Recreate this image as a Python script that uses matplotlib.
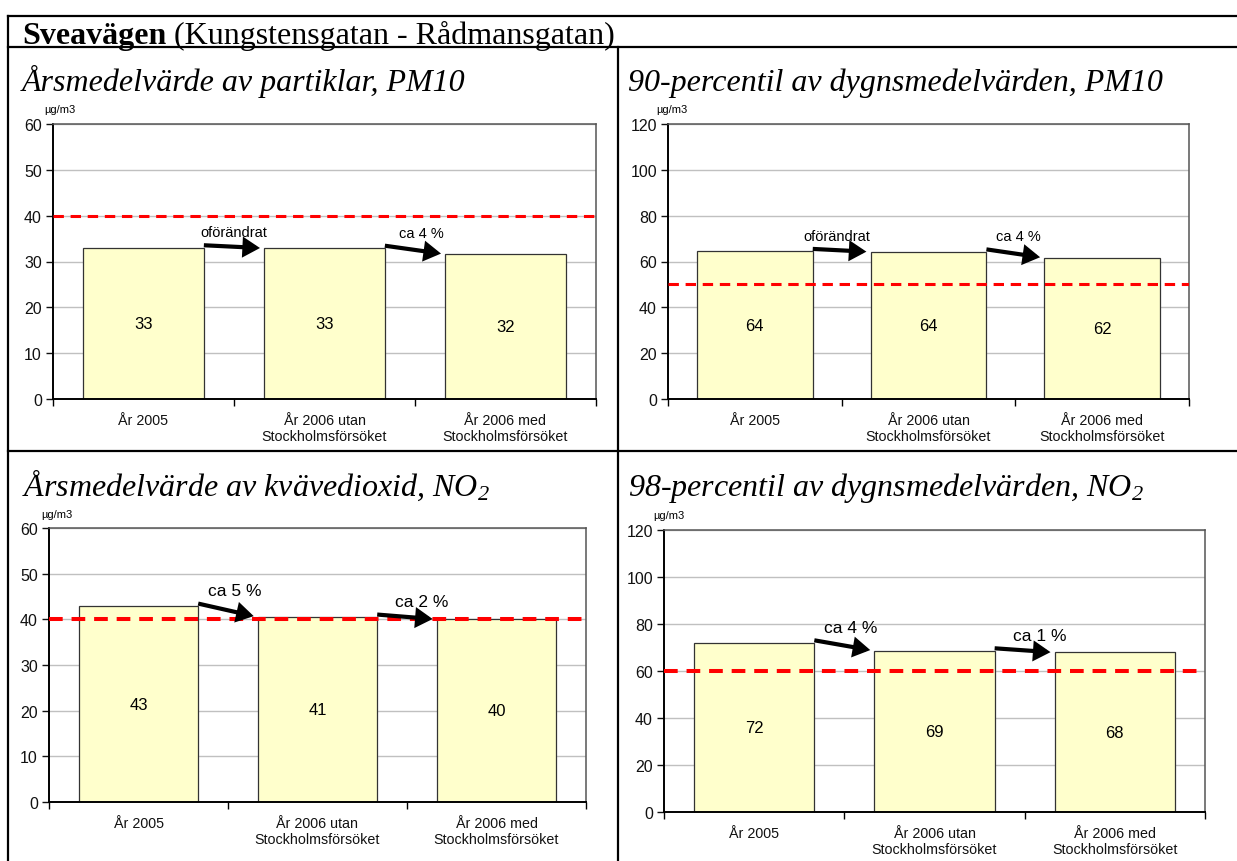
import matplotlib
matplotlib.use("Agg")
import matplotlib.pyplot as plt
from matplotlib.lines import Line2D

# ---------------- data ----------------
categories = ["År 2005", "År 2006 utan\nStockholmsförsöket", "År 2006 med\nStockholmsförsöket"]

pm10_annual = [33.0, 32.9, 31.6]
pm10_annual_labels = ["33", "33", "32"]
pm10_p90 = [64.4, 64.2, 61.6]
pm10_p90_labels = ["64", "64", "62"]
no2_annual = [42.9, 40.5, 40.0]
no2_annual_labels = ["43", "41", "40"]
no2_p98 = [72.0, 68.6, 67.9]
no2_p98_labels = ["72", "69", "68"]

limits = [40, 50, 40, 60]
y_max = [60, 120, 60, 120]
y_step = [10, 20, 10, 20]

change_texts = [["oförändrat", "ca 4 %"], ["oförändrat", "ca 4 %"],
                ["ca 5 %", "ca 2 %"], ["ca 4 %", "ca 1 %"]]

titles = ["Årsmedelvärde av partiklar, PM10",
          "90-percentil av dygnsmedelvärden, PM10",
          "Årsmedelvärde av kvävedioxid, NO$_2$",
          "98-percentil av dygnsmedelvärden, NO$_2$"]
main_title_bold = "Sveavägen"
main_title_rest = " (Kungstensgatan - Rådmansgatan)"
unit = "µg/m3"

# ---------------- layout ----------------
W, H = 1237, 862
plt.rcParams["font.family"] = ["Liberation Sans", "DejaVu Sans"]
plt.rcParams["mathtext.fontset"] = "custom"
plt.rcParams["mathtext.rm"] = "Liberation Serif:italic"
plt.rcParams["mathtext.it"] = "Liberation Serif:italic"

fig = plt.figure(figsize=(W / 100, H / 100), dpi=100)


def rect(x0, y0, x1, y1):
    return [x0 / W, 1 - y1 / H, (x1 - x0) / W, (y1 - y0) / H]


def fx(x):
    return x / W


def fy(y):
    return 1 - y / H


# frame lines
lw_frame = 1.6
for xs, ys in [((8, W), (17, 17)), ((8, 8), (17, H)), ((8, W), (48, 48)),
               ((618, 618), (48, H)), ((8, W), (452, 452))]:
    fig.add_artist(Line2D([fx(xs[0]), fx(xs[1])], [fy(ys[0]), fy(ys[1])],
                          color="black", lw=lw_frame, transform=fig.transFigure))

serif = ["Liberation Serif", "DejaVu Serif"]
t1 = fig.text(fx(22), fy(44), main_title_bold, family=serif, weight="bold",
              fontsize=23, ha="left", va="baseline")
fig.add_artist(plt.Annotation(main_title_rest, xy=(1, 0), xycoords=t1,
                              va="bottom", ha="left", family=serif, fontsize=23))

panels = [
    dict(vals=pm10_annual, labels=pm10_annual_labels, box=(53, 125, 596, 400),
         title_xy=(22, 91), unit_xy=(60, 110), text_dx=[0, 6], fs_arrow=10.5,
         lw_lim=2.2),
    dict(vals=pm10_p90, labels=pm10_p90_labels, box=(668, 125, 1189, 400),
         title_xy=(628, 91), unit_xy=(672, 110), text_dx=[-5, 3], fs_arrow=10.5,
         lw_lim=2.2),
    dict(vals=no2_annual, labels=no2_annual_labels, box=(49, 529, 586, 803),
         title_xy=(22, 496), unit_xy=(57, 515), text_dx=[7, 15], fs_arrow=12.5,
         lw_lim=2.9),
    dict(vals=no2_p98, labels=no2_p98_labels, box=(664, 531, 1205, 813),
         title_xy=(628, 496), unit_xy=(669, 516), text_dx=[6, 15], fs_arrow=12.5,
         lw_lim=2.9),
]

bar_w = 0.667
for k, p in enumerate(panels):
    x0, y0, x1, y1 = p["box"]
    ax = fig.add_axes(rect(x0, y0, x1, y1))
    vals = p["vals"]
    xs = list(range(len(categories)))
    ax.bar(xs, vals, width=bar_w, color="#FFFFCC", edgecolor="#333333",
           linewidth=0.9, zorder=2)
    ax.set_xlim(-0.5, 2.5)
    ax.set_ylim(0, y_max[k])
    ax.set_yticks(range(0, y_max[k] + 1, y_step[k]))
    ax.yaxis.grid(True, color="#C0C0C0", lw=1.0, zorder=0)
    ax.set_axisbelow(True)
    ax.set_xticks(xs)
    ax.set_xticklabels(categories, fontsize=10.3, linespacing=1.2)
    ax.set_xticks([-0.5, 0.5, 1.5, 2.5], minor=True)
    ax.tick_params(axis="x", which="major", length=0, pad=10, colors="#111111")
    ax.tick_params(axis="x", which="minor", length=5, width=1, direction="out")
    ax.tick_params(axis="y", length=5, width=1, direction="out", labelsize=11.5, pad=3,
                   colors="#111111")
    for s in ["left", "bottom"]:
        ax.spines[s].set_color("black")
        ax.spines[s].set_linewidth(1.4)
    for s in ["top", "right"]:
        ax.spines[s].set_color("#555555")
        ax.spines[s].set_linewidth(1.1)
    # limit line
    ax.axhline(limits[k], color="#FF0000", lw=p["lw_lim"], linestyle=(0, (3.4, 2.2)),
               zorder=3)
    # value labels
    for i, v in enumerate(vals):
        ax.text(i, v / 2, p["labels"][i], ha="center", va="center", fontsize=12, zorder=4)
    # arrows
    px_per_unit = (y1 - y0) / y_max[k]
    off = 2.5 / px_per_unit
    for i in range(2):
        xa = i + bar_w / 2
        xb = i + 1 - bar_w / 2
        ya = vals[i] + off
        yb = vals[i + 1]
        ax.annotate("", xy=(xb, yb), xytext=(xa, ya),
                    arrowprops=dict(arrowstyle="-|>,head_length=0.55,head_width=0.33",
                                    lw=3.0, color="black", shrinkA=0, shrinkB=3,
                                    mutation_scale=15, joinstyle="miter",
                                    capstyle="butt"), zorder=5)
        ax.annotate(change_texts[k][i], xy=((xa + xb) / 2, ya),
                    xytext=(p["text_dx"][i] * 0.72, 9.5), textcoords="offset points",
                    ha="center", va="center", fontsize=p["fs_arrow"], zorder=5)
    # titles
    fig.text(fx(p["title_xy"][0]), fy(p["title_xy"][1]), titles[k], family=serif,
             style="italic", fontsize=23, ha="left", va="baseline")
    fig.text(fx(p["unit_xy"][0]), fy(p["unit_xy"][1]), unit, fontsize=8,
             ha="center", va="center")

fig.savefig("out.png", dpi=100)
